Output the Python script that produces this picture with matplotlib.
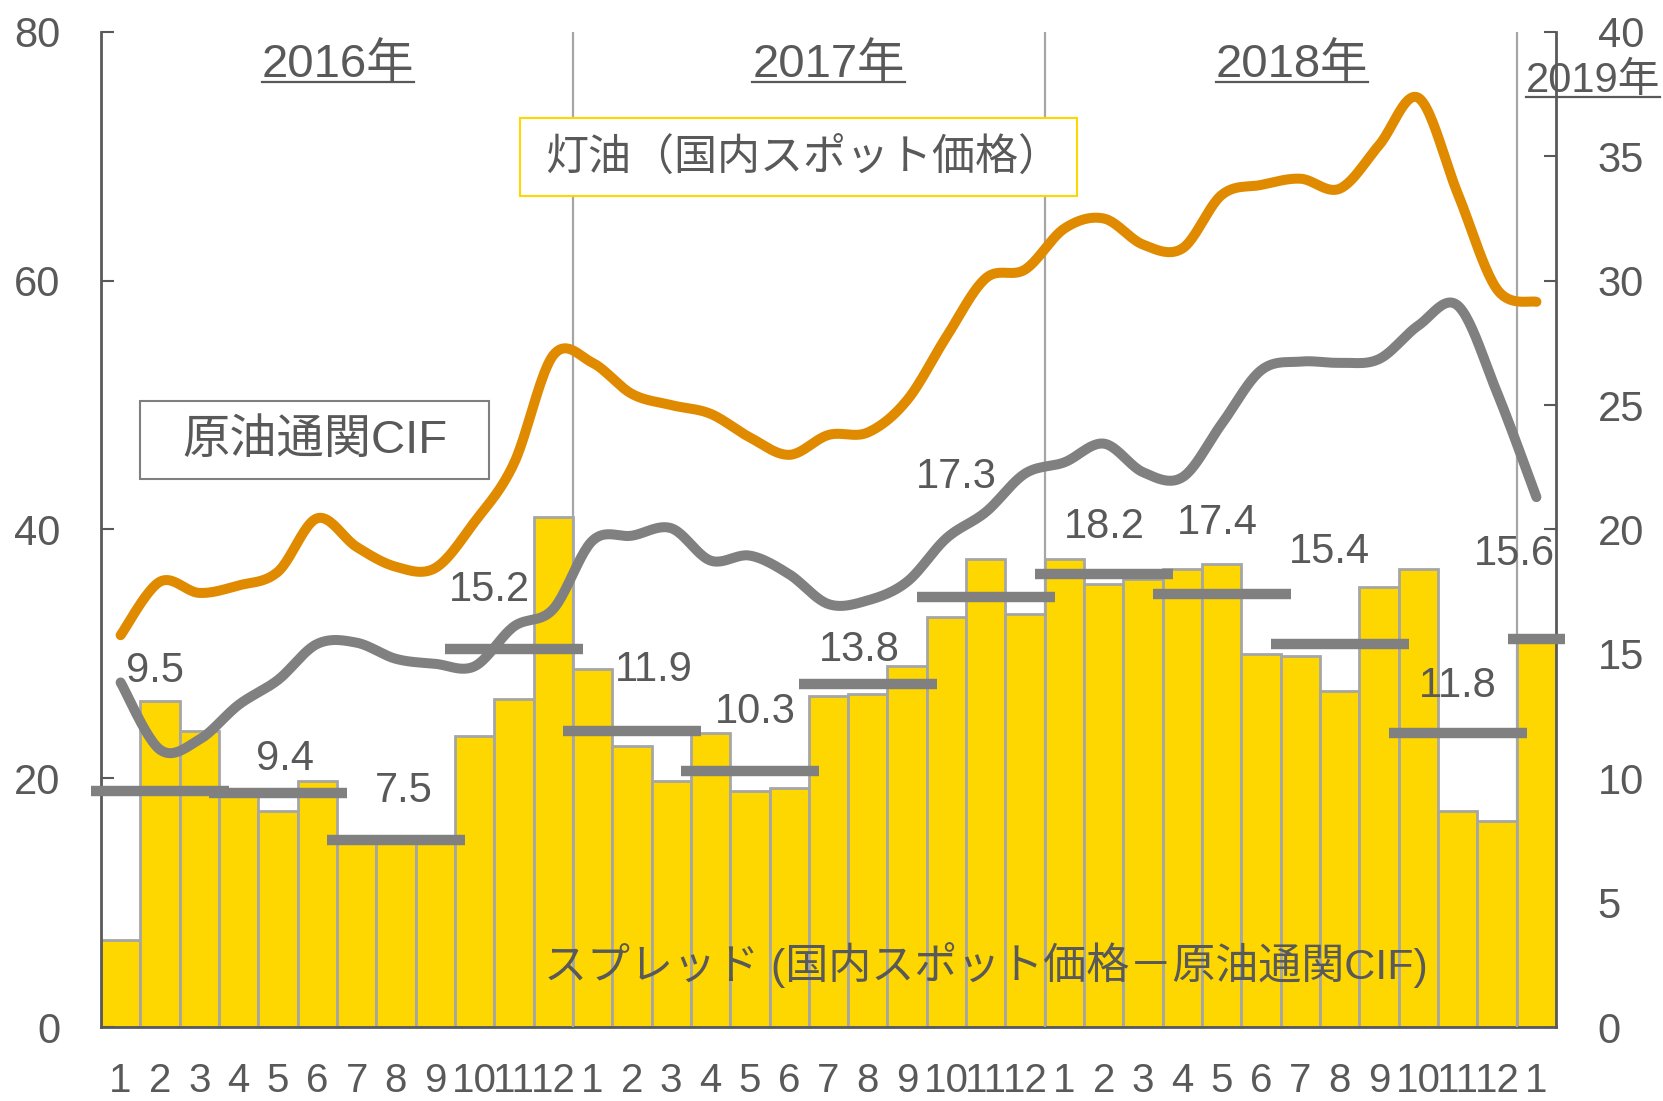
import numpy as np
import matplotlib
matplotlib.use("Agg")
import matplotlib.pyplot as plt
from matplotlib.patches import Rectangle
from matplotlib.lines import Line2D
from matplotlib.transforms import IdentityTransform

plt.rcParams['font.family'] = ['Liberation Sans', 'Noto Sans CJK JP', 'DejaVu Sans']

# ---------------- data ----------------
month_labels = [str(m) for m in range(1, 13)] * 3 + ['1']
spread = [3.5, 13.1, 11.9, 9.5, 8.7, 9.9, 7.4, 7.4, 7.6, 11.7, 13.2, 20.5,
          14.4, 11.3, 9.9, 11.8, 9.5, 9.6, 13.3, 13.4, 14.5, 16.5, 18.8, 16.6,
          18.8, 17.8, 18.0, 18.4, 18.6, 15.0, 14.9, 13.5, 17.7, 18.4, 8.7, 8.3,
          15.7]
kerosene = [31.5, 35.8, 34.9, 35.5, 36.6, 40.9, 38.6, 37.0, 36.9, 40.6, 45.3, 54.0,
            53.4, 50.9, 50.0, 49.3, 47.4, 46.0, 47.6, 47.8, 50.4, 55.5, 60.2, 60.9,
            64.2, 65.0, 62.9, 62.6, 66.9, 67.7, 68.2, 67.4, 70.9, 74.7, 67.0, 59.3,
            58.3]
crude = [27.7, 22.3, 23.1, 25.9, 27.9, 30.8, 30.9, 29.6, 29.2, 29.0, 32.2, 33.6,
         39.1, 39.5, 40.1, 37.5, 37.9, 36.4, 34.0, 34.3, 35.8, 39.3, 41.4, 44.5,
         45.4, 46.9, 44.6, 44.2, 48.5, 52.8, 53.5, 53.4, 53.7, 56.4, 58.0, 51.0,
         42.6]
quarter_avg = [9.5, 9.4, 7.5, 15.2, 11.9, 10.3, 13.8, 17.3, 18.2, 17.4, 15.4, 11.8, 15.6]
quarter_mid = [1, 4, 7, 10, 13, 16, 19, 22, 25, 28, 31, 34, 36]
year_labels = ['2016年', '2017年', '2018年', '2019年']

# label layout (offsets relative to quarter centre / average value)
avg_half_width = [1.75] * 12 + [0.72]
label_dx = [-0.12, 0.17, 0.21, -0.63, 0.55, 0.14, -0.22, -0.76, 0.01, -0.10, -0.27, 0.0, -0.55]
label_dy = [4.8, 1.39, 2.0, 2.37, 2.47, 2.37, 1.34, 4.79, 1.89, 2.86, 3.7, 1.89, 3.42]

TXT = '#595959'
ORANGE = '#E08A00'
GRAY = '#808080'
GOLD = '#FFD700'


def smooth(vals, n=24):
    y = np.asarray(vals, float)
    x = np.arange(len(y), dtype=float)
    P = np.column_stack([x, y])
    Pe = np.vstack([P[0], P, P[-1]])
    t = np.linspace(0, 1, n, endpoint=False)[:, None]
    segs = []
    for i in range(len(P) - 1):
        p0, p1, p2, p3 = Pe[i], Pe[i + 1], Pe[i + 2], Pe[i + 3]
        b1 = p1 + (p2 - p0) / 6.0
        b2 = p2 - (p3 - p1) / 6.0
        segs.append((1 - t) ** 3 * p1 + 3 * (1 - t) ** 2 * t * b1
                    + 3 * (1 - t) * t ** 2 * b2 + t ** 3 * p2)
    segs.append(P[-1:])
    S = np.vstack(segs)
    return S[:, 0], S[:, 1]


fig = plt.figure(figsize=(16.63, 11.01), dpi=100)
ax = fig.add_axes([0.0607, 0.0672, 0.875, 0.9038])
x = np.arange(len(spread))

# bars (right axis scale)
ax.bar(x, spread, width=1.0, color=GOLD, edgecolor='#A6A6A6', linewidth=2, zorder=2)
ax.set_xlim(-0.5, 36.5)
ax.set_ylim(0, 40)

# year separators
for sx in [11.5, 23.5, 35.5]:
    ax.axvline(sx, color='#A6A6A6', lw=1.6, zorder=3)

# quarterly averages
for m, v, hw in zip(quarter_mid, quarter_avg, avg_half_width):
    ax.plot([m - hw, m + hw], [v, v], color=GRAY, lw=7.5, solid_capstyle='butt',
            zorder=4, clip_on=False)
for m, v, dx, dy in zip(quarter_mid, quarter_avg, label_dx, label_dy):
    ax.text(m + dx, v + dy, f'{v:.1f}', ha='center', va='center', fontsize=30,
            color=TXT, zorder=5, clip_on=True)

ax.text(22.01, 2.48, 'スプレッド (国内スポット価格－原油通関CIF)', ha='center', va='center',
        fontsize=31, color=TXT, zorder=5)

ax.set_xticks(x)
ax.set_xticklabels(month_labels)
ax.tick_params(axis='x', length=0, pad=25, labelsize=29, labelcolor=TXT)
for s in ['top']:
    ax.spines[s].set_visible(False)
for s in ['left', 'right', 'bottom']:
    ax.spines[s].set_color(TXT)
    ax.spines[s].set_linewidth(2)

# lines (left axis scale)
ax2 = ax.twinx()
ax2.set_ylim(0, 80)
ax2.set_xlim(-0.5, 36.5)
for s in ax2.spines.values():
    s.set_visible(False)

# right axis (spread) ticks on ax, left axis (prices) ticks on ax2
ax.yaxis.tick_right()
ax.set_yticks(np.arange(0, 41, 5))
ax.tick_params(axis='y', direction='in', length=9, width=1.5, color=TXT, labelsize=30,
               labelcolor=TXT, pad=30, right=True, left=False,
               labelright=True, labelleft=False)
ax2.yaxis.tick_left()
ax2.set_yticks(np.arange(0, 81, 20))
ax2.tick_params(axis='y', direction='in', length=9, width=1.5, color=TXT, labelsize=30,
                labelcolor=TXT, pad=29, left=True, right=False,
                labelleft=True, labelright=False)

sx_, sy_ = smooth(crude)
ax2.plot(sx_, sy_, color=GRAY, lw=7.2, solid_capstyle='round', zorder=3)
kx_, ky_ = smooth(kerosene)
ax2.plot(kx_, ky_, color=ORANGE, lw=7.2, solid_capstyle='round', zorder=3)

# label boxes
ax2.add_patch(Rectangle((10.16, 66.8), 14.16, 6.27, facecolor='white', edgecolor=GOLD,
                        lw=1.5, zorder=6))
ax2.text(17.35, 69.8, '灯油（国内スポット価格）', ha='center', va='center', fontsize=31,
         color=TXT, zorder=7)
ax2.add_patch(Rectangle((0.5, 44.04), 8.87, 6.27, facecolor='white', edgecolor='#7F7F7F',
                        lw=1.5, zorder=6))
ax2.text(4.93, 47.1, '原油通関CIF', ha='center', va='center', fontsize=34,
         color=TXT, zorder=7)

# year labels
year_x = [5.53, 18.0, 29.79, 37.44]
year_y = [76.34, 76.34, 76.34, 75.19]
year_fs = [34, 34, 34, 30]
year_texts = []
for lab, yx, yy, fs in zip(year_labels, year_x, year_y, year_fs):
    t = ax2.text(yx, yy, lab, ha='center', va='baseline', fontsize=fs, color=TXT,
                 zorder=7, clip_on=False)
    year_texts.append(t)

fig.canvas.draw()
renderer = fig.canvas.get_renderer()
for t in year_texts:
    bb = t.get_window_extent(renderer)
    base = t.get_transform().transform(t.get_position())[1]
    fig.add_artist(Line2D([bb.x0, bb.x1], [base - 5, base - 5], transform=IdentityTransform(),
                          color=TXT, lw=1.6))

fig.savefig('out.png', dpi=100)
